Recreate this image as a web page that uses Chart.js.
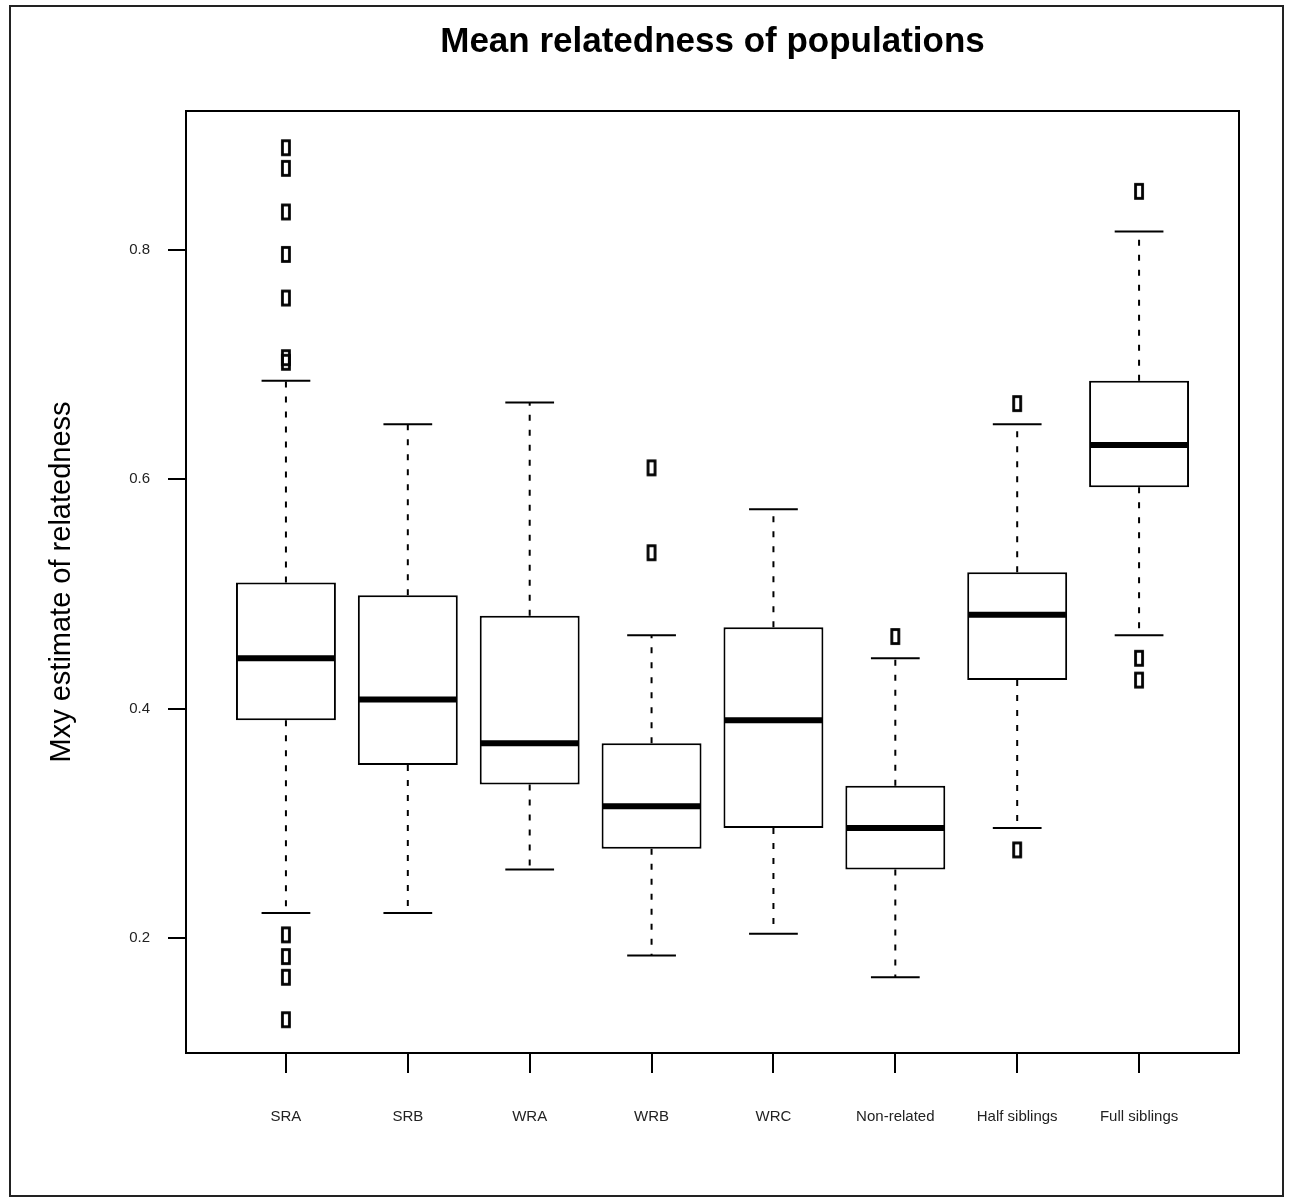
<!DOCTYPE html>
<html>
<head>
<meta charset="utf-8">
<script src="https://cdn.jsdelivr.net/npm/chart.js@4.4.1/dist/chart.umd.min.js"></script>
<style>
  body { margin: 0; background: #fff; }
  #wrap { position: relative; width: 1289px; height: 1198px; }
</style>
</head>
<body>
<div id="wrap"><canvas id="relChart"></canvas></div>
<script>
// Boxplot values
const chartTitle = "Mean relatedness of populations";
const categories = ["SRA", "SRB", "WRA", "WRB", "WRC", "Non-related", "Half siblings", "Full siblings"];
const whiskerLow = [0.222, 0.222, 0.260, 0.185, 0.204, 0.166, 0.296, 0.464];
const q1 = [0.390, 0.351, 0.334, 0.278, 0.296, 0.260, 0.425, 0.593];
const medians = [0.444, 0.408, 0.370, 0.315, 0.390, 0.296, 0.482, 0.630];
const q3 = [0.510, 0.499, 0.481, 0.370, 0.471, 0.333, 0.519, 0.686];
const whiskerHigh = [0.686, 0.648, 0.667, 0.464, 0.574, 0.444, 0.648, 0.816];
const outliers = [
  [0.889, 0.871, 0.833, 0.796, 0.758, 0.706, 0.702, 0.203, 0.184, 0.166, 0.129],
  [],
  [],
  [0.610, 0.536],
  [],
  [0.463],
  [0.666, 0.277],
  [0.851, 0.444, 0.425],
];
const yTicks = [0.2, 0.4, 0.6, 0.8];

const positions = categories.map((c, i) => i + 1);

// helpers to build broken line segments
const segs = (fn) => {
  const pts = [];
  positions.forEach((x, i) => {
    fn(x, i).forEach((p) => pts.push(p));
    pts.push({ x: x, y: null });
  });
  return pts;
};

const boxData = positions.map((x, i) => ({ x: x, y: [q1[i], q3[i]] }));
const medianData = segs((x, i) => [{ x: x - 0.4, y: medians[i] }, { x: x + 0.4, y: medians[i] }]);
const whiskerData = segs((x, i) => [
  { x: x, y: q3[i] }, { x: x, y: whiskerHigh[i] }, { x: x, y: null },
  { x: x, y: q1[i] }, { x: x, y: whiskerLow[i] },
]);
const capData = segs((x, i) => [
  { x: x - 0.2, y: whiskerHigh[i] }, { x: x + 0.2, y: whiskerHigh[i] }, { x: x, y: null },
  { x: x - 0.2, y: whiskerLow[i] }, { x: x + 0.2, y: whiskerLow[i] },
]);
const outlierData = [];
outliers.forEach((list, i) => list.forEach((v) => outlierData.push({ x: positions[i], y: v })));

// open tall rectangle used as outlier marker
const marker = document.createElement("canvas");
marker.width = 12;
marker.height = 19;
const mctx = marker.getContext("2d");
mctx.strokeStyle = "#000";
mctx.lineWidth = 2.8;
mctx.strokeRect(2.5, 2.5, 7, 14);

const font = "'Liberation Sans', Arial, Helvetica, sans-serif";

const frames = {
  id: "frames",
  beforeDraw(chart) {
    const c = chart.ctx;
    c.save();
    c.fillStyle = "#fff";
    c.fillRect(0, 0, chart.width, chart.height);
    c.strokeStyle = "#222";
    c.lineWidth = 2;
    c.strokeRect(10, 6, 1273, 1190);
    c.restore();
  },
  afterDraw(chart) {
    const a = chart.chartArea;
    const c = chart.ctx;
    c.save();
    c.strokeStyle = "#000";
    c.lineWidth = 2;
    c.strokeRect(a.left, a.top, a.right - a.left, a.bottom - a.top);
    // title centred over the plot region, as R does
    c.fillStyle = "#000";
    c.font = "bold 35px " + font;
    c.textAlign = "center";
    c.textBaseline = "middle";
    c.fillText(chartTitle, (a.left + a.right) / 2, 42);
    c.restore();
  },
};

new Chart(document.getElementById("relChart"), {
  type: "bar",
  data: {
    datasets: [
      {
        type: "scatter",
        data: outlierData,
        pointStyle: marker,
        pointRadius: 6,
        order: 0,
      },
      {
        type: "line",
        data: medianData,
        borderColor: "#000",
        borderWidth: 6,
        pointRadius: 0,
        spanGaps: false,
        order: 1,
      },
      {
        type: "line",
        data: capData,
        borderColor: "#000",
        borderWidth: 2,
        pointRadius: 0,
        spanGaps: false,
        order: 2,
      },
      {
        type: "line",
        data: whiskerData,
        borderColor: "#000",
        borderWidth: 2,
        borderDash: [6, 9],
        pointRadius: 0,
        spanGaps: false,
        order: 3,
      },
      {
        type: "bar",
        data: boxData,
        backgroundColor: "#fff",
        borderColor: "#000",
        borderWidth: 2,
        borderSkipped: false,
        categoryPercentage: 1,
        barPercentage: 0.82,
        order: 4,
      },
    ],
  },
  options: {
    responsive: true,
    maintainAspectRatio: false,
    animation: false,
    layout: { padding: { left: 0, right: 50, top: 111, bottom: 0 } },
    plugins: {
      legend: { display: false },
      tooltip: { enabled: false },
      title: { display: false },
    },
    scales: {
      x: {
        type: "linear",
        min: 0.18,
        max: 8.82,
        offset: false,
        border: { display: false },
        grid: { drawOnChartArea: false, offset: false, tickLength: 20, color: "#000", lineWidth: 2 },
        afterBuildTicks: (scale) => {
          scale.ticks = positions.map((v) => ({ value: v }));
        },
        afterFit: (scale) => {
          scale.height = 145;
        },
        ticks: {
          autoSkip: false,
          maxRotation: 0,
          padding: 35,
          color: "#222",
          font: { family: font, size: 15 },
          callback: (value) => categories[Math.round(value) - 1],
        },
      },
      y: {
        min: 0.1,
        max: 0.921,
        border: { display: false },
        grid: { drawOnChartArea: false, tickLength: 18, color: "#000", lineWidth: 2 },
        afterBuildTicks: (scale) => {
          scale.ticks = yTicks.map((v) => ({ value: v }));
        },
        afterFit: (scale) => {
          scale.width = 186;
        },
        ticks: {
          padding: 18,
          color: "#222",
          font: { family: font, size: 15 },
          callback: (value) => value.toFixed(1),
        },
        title: {
          display: true,
          text: "Mxy estimate of relatedness",
          color: "#000",
          font: { family: font, size: 29 },
          padding: { top: 45, bottom: 0 },
        },
      },
    },
  },
  plugins: [frames],
});
</script>
</body>
</html>
